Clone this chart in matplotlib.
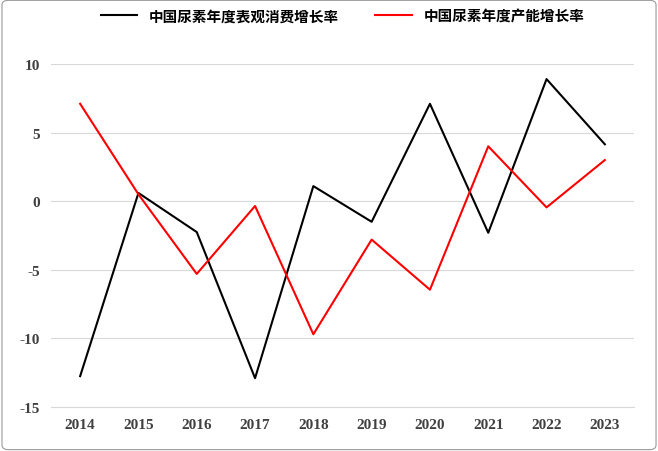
import matplotlib
matplotlib.use("Agg")
import matplotlib.pyplot as plt
from matplotlib.patches import FancyBboxPatch
from matplotlib.font_manager import FontProperties

plt.rcParams["axes.unicode_minus"] = False

years = ["2014","2015","2016","2017","2018","2019","2020","2021","2022","2023"]
consumption = [-12.75, 0.6, -2.25, -12.9, 1.1, -1.5, 7.1, -2.3, 8.9, 4.15]
capacity = [7.1, 0.5, -5.3, -0.35, -9.7, -2.8, -6.45, 4.0, -0.45, 3.0]

fig = plt.figure(figsize=(6.58, 4.52), dpi=100)
fig.patches.append(FancyBboxPatch((0.003, 0.003), 0.994, 0.994, boxstyle="round,pad=0,rounding_size=0.01",
                                  transform=fig.transFigure, fill=False, edgecolor="#999999", linewidth=0.8))
ax = fig.add_axes([51/658, 1-408/452, (634-51)/658, (408-65)/452])
x = range(len(years))
ax.plot(x, consumption, color="black", lw=1.5, label="中国尿素年度表观消费增长率")
ax.plot(x, capacity, color="red", lw=1.5, label="中国尿素年度产能增长率")
ax.set_xlim(-0.5, len(years)-0.5)
ax.set_ylim(-15, 10)
ax.set_yticks([-15, -10, -5, 0, 5, 10])
ax.set_xticks(list(x))
ax.set_xticklabels(years)
ax.yaxis.grid(True, color="#d9d9d9", lw=0.8)
ax.set_axisbelow(True)
for s in ["top", "right", "left"]:
    ax.spines[s].set_visible(False)
ax.spines["bottom"].set_color("#d9d9d9")
ax.tick_params(length=0, pad=8)
for lab in ax.get_xticklabels() + ax.get_yticklabels():
    lab.set_fontfamily("Liberation Serif")
    lab.set_fontweight("bold")
    lab.set_fontsize(11)
    lab.set_color("#404040")
fp = FontProperties(family=["Noto Sans CJK SC", "Noto Sans CJK JP"], size=10.5, weight="bold")
leg = ax.legend(loc="lower center", bbox_to_anchor=(0.5, 1.08), ncol=2, frameon=False,
                prop=fp, handlelength=2.5, columnspacing=2.5)
fig.savefig("out.png", dpi=100)
